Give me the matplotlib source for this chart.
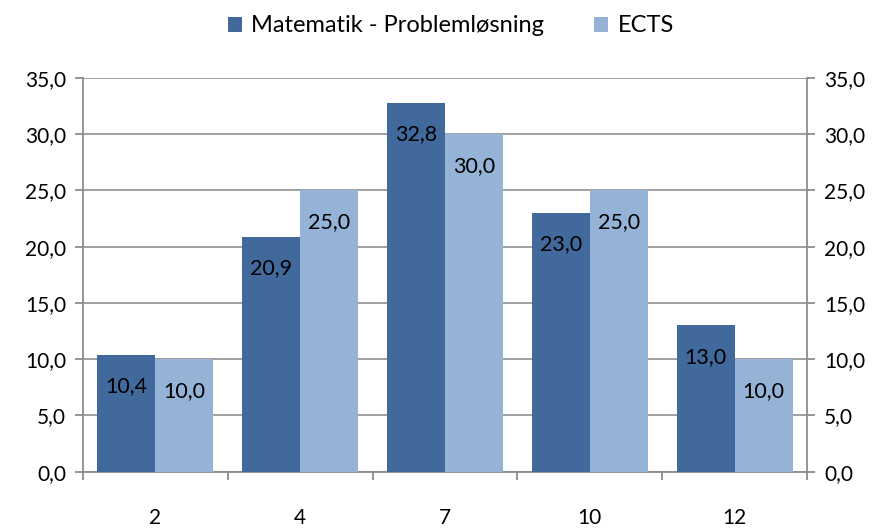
import matplotlib
matplotlib.use("Agg")
import matplotlib.pyplot as plt
import numpy as np

categories = ["2", "4", "7", "10", "12"]
series_names = ["Matematik - Problemløsning", "ECTS"]
math_vals = [10.4, 20.9, 32.8, 23.0, 13.0]
ects_vals = [10.0, 25.0, 30.0, 25.0, 10.0]
yticks = [0, 5, 10, 15, 20, 25, 30, 35]

dark = "#41699C"
light = "#95B3D7"
grid_c = "#999999"
axis_c = "#8C8C8C"

plt.rcParams['font.family'] = ['Lato', 'DejaVu Sans']

fig = plt.figure(figsize=(8.84, 5.29), dpi=100)
ax = fig.add_axes([83/884, 1-471.7/529, (807-83)/884, (471.7-78)/529])

x = np.arange(len(categories))
w = 0.4
b1 = ax.bar(x - w/2, math_vals, width=w, color=dark, label=series_names[0], zorder=3)
b2 = ax.bar(x + w/2, ects_vals, width=w, color=light, label=series_names[1], zorder=3)

for bars, vals in ((b1, math_vals), (b2, ects_vals)):
    for r, v in zip(bars, vals):
        ax.annotate(f"{v:.1f}".replace(".", ","), (r.get_x() + r.get_width()/2, v),
                    xytext=(0, -22.7), textcoords="offset points",
                    ha="center", va="center", fontsize=15.5, color="black", zorder=4)

ax.set_xlim(-0.5, len(categories) - 0.5)
ax.set_ylim(0, 35)
ax.set_yticks(yticks)
ax.set_yticklabels([f"{t:.1f}".replace(".", ",") for t in yticks])
ax.yaxis.grid(True, color=grid_c, linewidth=1.3, zorder=0)
ax.set_axisbelow(True)

ax.spines["top"].set_visible(False)
for s in ["left", "right", "bottom"]:
    ax.spines[s].set_color(axis_c)
    ax.spines[s].set_linewidth(1.3)

ax.tick_params(axis="y", which="both", left=True, right=True, labelleft=True, labelright=True,
               direction="out", length=5.8, width=1.3, color=axis_c, labelsize=15, pad=6.5)

ax.set_xticks(x)
ax.set_xticklabels(categories)
ax.set_xticks(np.arange(-0.5, len(categories)), minor=True)
ax.tick_params(axis="x", which="major", length=0, labelsize=15, pad=26)
ax.tick_params(axis="x", which="minor", length=5.8, width=1.3, color=axis_c, direction="out")

leg = fig.legend(handles=[b1, b2], labels=series_names, loc="center",
                 bbox_to_anchor=(0.51, 1 - 26/529), ncol=2, frameon=False, fontsize=17,
                 handlelength=0.6, handleheight=0.6, handletextpad=0.4, columnspacing=2.1,
                 borderpad=0)

fig.savefig("out.png", dpi=100)
